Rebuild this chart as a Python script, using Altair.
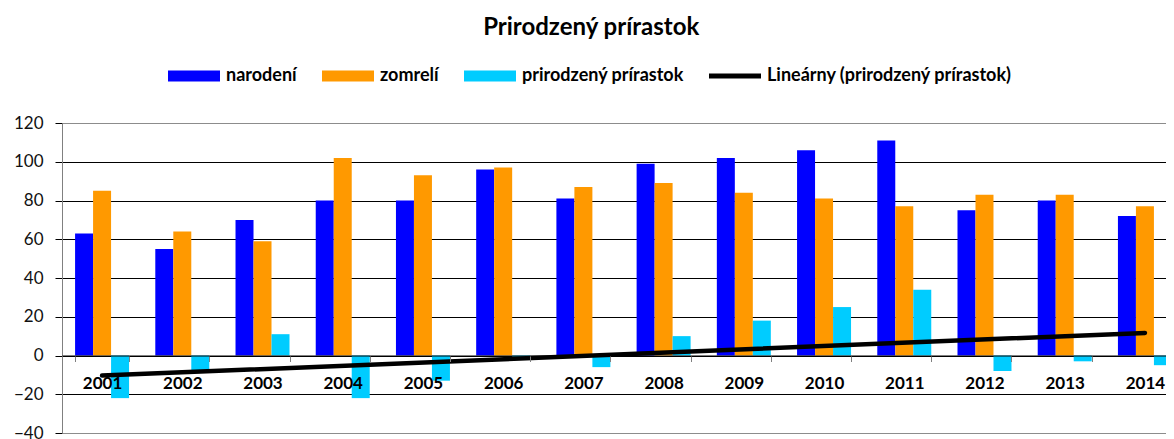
import altair as alt
import pandas as pd

years = ["2001", "2002", "2003", "2004", "2005", "2006", "2007",
         "2008", "2009", "2010", "2011", "2012", "2013", "2014"]
narodeni = [63, 55, 70, 80, 80, 96, 81, 99, 102, 106, 111, 75, 80, 72]
zomreli = [85, 64, 59, 102, 93, 97, 87, 89, 84, 81, 77, 83, 83, 77]
prirastok = [-22, -9, 11, -22, -13, -1, -6, 10, 18, 25, 34, -8, -3, -5]

series_names = ["narodení", "zomrelí", "prirodzený prírastok"]
trend_name = "Lineárny (prirodzený prírastok)"
legend_names = series_names + [trend_name]
colors = ["#0000FF", "#FF9900", "#00CCFF", "#000000"]
RECT = "M-1,-0.21H1V0.21H-1Z"
LINE = "M-1,-0.1H1V0.1H-1Z"
shapes = [RECT, RECT, RECT, LINE]
y_ticks = [-40, -20, 0, 20, 40, 60, 80, 100, 120]

rows = []
for name, vals in zip(series_names, [narodeni, zomreli, prirastok]):
    for yr, v in zip(years, vals):
        rows.append({"year": yr, "series": name, "value": v})
df = pd.DataFrame(rows)

FONT = "Lato"
H = 310
W = 1104          # visible plot width (chart is cut at the right like the reference)
X_RANGE = 1123    # full category range, partly beyond the visible edge

x_enc = alt.X(
    "year:N",
    sort=years,
    scale=alt.Scale(paddingInner=0.327, paddingOuter=0.163, range=[0, X_RANGE]),
    axis=alt.Axis(
        title=None, labelAngle=0, labelFont=FONT, labelFontSize=17,
        labelFontWeight="bold", labelColor="black", tickBand="extent",
        tickSize=6, tickColor="#808080", domainColor="black",
        domainWidth=1, offset=-H / 4, labelPadding=14, grid=False,
        zindex=1,
    ),
)

y_enc = alt.Y(
    "value:Q",
    scale=alt.Scale(domain=[-40, 120], nice=False),
    axis=alt.Axis(
        title=None, values=y_ticks, labelFont=FONT, labelFontSize=17,
        labelColor="#111111", tickSize=7, tickColor="#000000",
        labelPadding=12, domainColor="#808080", labelOverlap=False,
        gridColor={"condition": {"test": "datum.value == 120 || datum.value == -40",
                                 "value": "#8c8c8c"}, "value": "#000000"},
        gridWidth=1,
    ),
)

legend = alt.Legend(
    orient="none", legendX=106, legendY=-73, direction="horizontal",
    title=None, symbolSize=2704,
    symbolStrokeWidth=0, symbolOpacity=1, labelFont=FONT, labelFontSize=18,
    labelFontWeight="bold", labelColor="black", labelOffset=6,
    columnPadding=25, labelLimit=500,
)

color_enc = alt.Color("series:N",
                      scale=alt.Scale(domain=legend_names, range=colors),
                      legend=legend)

bars = alt.Chart(df).mark_bar().encode(
    x=x_enc,
    xOffset=alt.XOffset("series:N", sort=series_names,
                        scale=alt.Scale(domain=series_names)),
    y=y_enc,
    color=color_enc,
)

legend_layer = (
    alt.Chart(df)
    .transform_filter("false")
    .mark_point(filled=True, opacity=1, size=2704)
    .encode(
        x=x_enc,
        y=y_enc,
        color=color_enc,
        shape=alt.Shape("series:N",
                        scale=alt.Scale(domain=legend_names, range=shapes),
                        legend=legend),
    )
)

trend = (
    alt.Chart(df)
    .transform_filter(alt.datum.series == "prirodzený prírastok")
    .transform_calculate(yr="toNumber(datum.year)")
    .transform_regression("yr", "value", method="linear")
    .transform_calculate(year="toString(datum.yr)")
    .mark_line(color="black", strokeWidth=4.5, strokeCap="round")
    .encode(x=x_enc, y=y_enc)
)

chart = (
    alt.layer(bars, legend_layer, trend)
    .properties(
        width=W, height=H,
        title=alt.Title("Prirodzený prírastok", font=FONT, fontSize=24,
                        fontWeight="bold", color="black", anchor="middle",
                        frame="bounds", offset=10, dx=-8),
        autosize=alt.AutoSizeParams(type="none"),
        padding={"left": 54, "top": 115, "right": 0, "bottom": 14},
    )
    .configure_view(stroke=None)
)

chart.save("out.html", embed_options={"renderer": "svg", "actions": False})
